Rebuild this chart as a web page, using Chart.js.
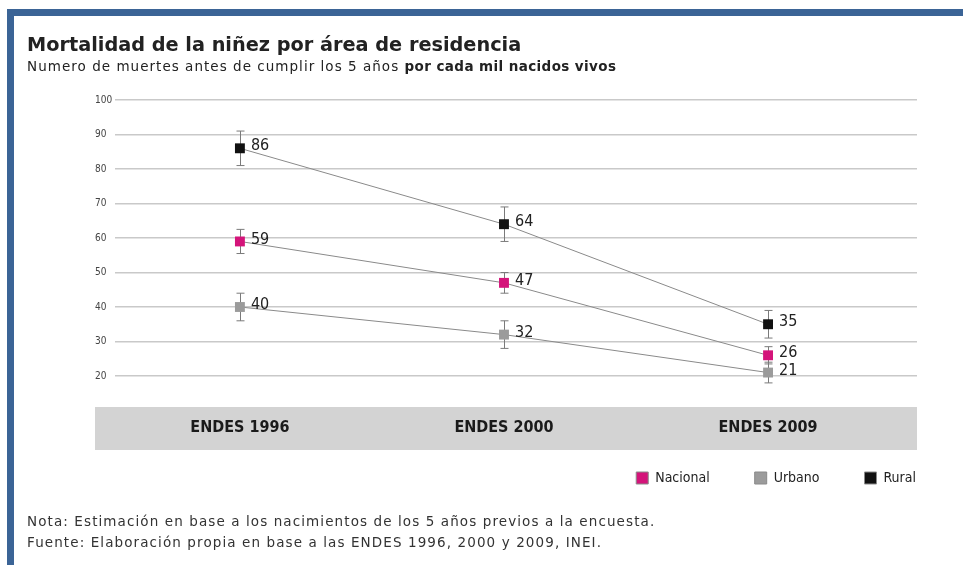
<!DOCTYPE html>
<html>
<head>
<meta charset="utf-8">
<script src="https://cdn.jsdelivr.net/npm/chart.js@4.4.1/dist/chart.umd.min.js"></script>
<style>
  body { margin: 0; background: #fff; }
  #wrap { position: relative; width: 963px; height: 565px; overflow: hidden; background: #fff; }
  .bar-top { position: absolute; left: 7px; top: 9px; width: 956px; height: 7px; background: #3b6496; }
  .bar-left { position: absolute; left: 7px; top: 9px; width: 7px; height: 556px; background: #3b6496; }
  #title { position: absolute; left: 27px; top: 33px; font: bold 19.3px "DejaVu Sans", sans-serif; color: #222; white-space: nowrap; }
  #subtitle { position: absolute; left: 27px; top: 58px; font: 13.5px "DejaVu Sans", sans-serif; letter-spacing: 1.03px; color: #222; white-space: nowrap; }
  #subtitle b { font-weight: bold; letter-spacing: 0.4px; }
  canvas { position: absolute; left: 0; top: 0; }
  .note { position: absolute; left: 27px; font: 13.5px "DejaVu Sans", sans-serif; letter-spacing: 1.1px; color: #333; white-space: nowrap; }
</style>
</head>
<body>
<div id="wrap">
  <div class="bar-top"></div>
  <div class="bar-left"></div>
  <canvas id="mortChart" width="963" height="565"></canvas>
  <div id="title">Mortalidad de la niñez por área de residencia</div>
  <div id="subtitle">Numero de muertes antes de cumplir los 5 años <b>por cada mil nacidos vivos</b></div>
  <div class="note" style="top:513px">Nota: Estimación en base a los nacimientos de los 5 años previos a la encuesta.</div>
  <div class="note" style="top:534px">Fuente: Elaboración propia en base a las ENDES 1996, 2000 y 2009, INEI.</div>
</div>
<script>
const categories = ["ENDES 1996", "ENDES 2000", "ENDES 2009"];

// valores por cada mil nacidos vivos
const nacional = [59, 47, 26];
const urbano = [40, 32, 21];
const rural = [86, 64, 35];

// semiamplitud aproximada de los intervalos
const nacionalErr = [3.5, 3, 2.5];
const urbanoErr = [4, 4, 3];
const ruralErr = [5, 5, 4];

const yTicks = [20, 30, 40, 50, 60, 70, 80, 90, 100];

const narrow = '"Liberation Sans Narrow", "DejaVu Sans Condensed", sans-serif';

function toPoints(values) {
  return values.map((v, i) => ({ x: i, y: v }));
}

// gray band behind the category labels
const bandPlugin = {
  id: 'band',
  beforeDraw(chart) {
    const { ctx, chartArea } = chart;
    ctx.save();
    ctx.fillStyle = '#d3d3d3';
    ctx.fillRect(chartArea.left - 20, chartArea.bottom + 31, chartArea.right - chartArea.left + 20, 43);
    ctx.restore();
  }
};

// pull the legend up closer to the band (its padding is large to spread the items)
const legendShift = {
  id: 'legendShift',
  afterLayout(chart) {
    if (chart.legend) {
      chart.legend.top -= 24;
      chart.legend.bottom -= 24;
    }
  }
};

// error bars (behind the markers)
const errorBarPlugin = {
  id: 'errorBars',
  beforeDatasetsDraw(chart) {
    const { ctx } = chart;
    const yScale = chart.scales.y;
    ctx.save();
    ctx.strokeStyle = '#7a7a7a';
    ctx.lineWidth = 1;
    chart.data.datasets.forEach((ds, di) => {
      const meta = chart.getDatasetMeta(di);
      meta.data.forEach((pt, i) => {
        const v = ds.data[i].y;
        const e = ds.errors[i];
        const yTop = yScale.getPixelForValue(v + e);
        const yBot = yScale.getPixelForValue(v - e);
        const x = Math.round(pt.x) + 0.5;
        ctx.beginPath();
        ctx.moveTo(x, yTop);
        ctx.lineTo(x, yBot);
        ctx.moveTo(x - 4, yTop);
        ctx.lineTo(x + 4, yTop);
        ctx.moveTo(x - 4, yBot);
        ctx.lineTo(x + 4, yBot);
        ctx.stroke();
      });
    });
    ctx.restore();
  }
};

// value labels next to each marker
const valueLabelPlugin = {
  id: 'valueLabels',
  afterDatasetsDraw(chart) {
    const { ctx } = chart;
    ctx.save();
    ctx.font = '16px ' + narrow;
    ctx.fillStyle = '#222';
    ctx.textAlign = 'left';
    ctx.textBaseline = 'middle';
    chart.data.datasets.forEach((ds, di) => {
      const meta = chart.getDatasetMeta(di);
      meta.data.forEach((pt, i) => {
        ctx.fillText(String(ds.data[i].y), pt.x + 11, pt.y - 2);
      });
    });
    ctx.restore();
  }
};

function series(label, values, errors, color) {
  return {
    label: label,
    data: toPoints(values),
    errors: errors,
    borderColor: '#8a8a8a',
    borderWidth: 1,
    backgroundColor: color,
    pointStyle: 'rect',
    pointRadius: 7,
    pointHoverRadius: 7,
    pointBackgroundColor: color,
    pointBorderColor: color,
    pointBorderWidth: 0,
    tension: 0,
    clip: false
  };
}

new Chart(document.getElementById('mortChart').getContext('2d'), {
  type: 'line',
  data: {
    datasets: [
      series('Nacional', nacional, nacionalErr, '#d4147a'),
      series('Urbano', urbano, urbanoErr, '#9b9b9b'),
      series('Rural', rural, ruralErr, '#111111')
    ]
  },
  options: {
    responsive: false,
    animation: false,
    layout: { padding: { left: 95, right: 2, top: 100, bottom: 46 } },
    scales: {
      x: {
        type: 'linear',
        min: -0.473,
        max: 2.564,
        grid: { display: false, drawTicks: false },
        border: { display: false },
        afterBuildTicks: (scale) => {
          scale.ticks = categories.map((c, i) => ({ value: i }));
        },
        afterFit: (scale) => { scale.height = 74; },
        ticks: {
          padding: 42,
          color: '#1a1a1a',
          font: { family: narrow, size: 16, weight: 'bold' },
          callback: (v) => categories[v]
        }
      },
      y: {
        min: 20,
        max: 100,
        afterBuildTicks: (scale) => {
          scale.ticks = yTicks.map((v) => ({ value: v }));
        },
        afterFit: (scale) => { scale.width = 20; },
        grid: { color: '#c9c9c9', lineWidth: 1.5, drawTicks: false },
        border: { display: false },
        ticks: {
          crossAlign: 'far',
          padding: 0,
          color: '#444',
          font: { family: narrow, size: 10 }
        }
      },
      // empty right-hand strip so the legend can reach further right than the grid
      yRight: {
        position: 'right',
        grid: { display: false, drawTicks: false },
        border: { display: false },
        ticks: { display: false },
        afterFit: (scale) => { scale.width = 44; }
      }
    },
    plugins: {
      legend: {
        position: 'bottom',
        align: 'end',
        labels: {
          boxWidth: 12,
          boxHeight: 12,
          padding: 45,
          color: '#222',
          font: { family: narrow, size: 14 }
        }
      },
      tooltip: { enabled: false }
    }
  },
  plugins: [bandPlugin, legendShift, errorBarPlugin, valueLabelPlugin]
});
</script>
</body>
</html>
